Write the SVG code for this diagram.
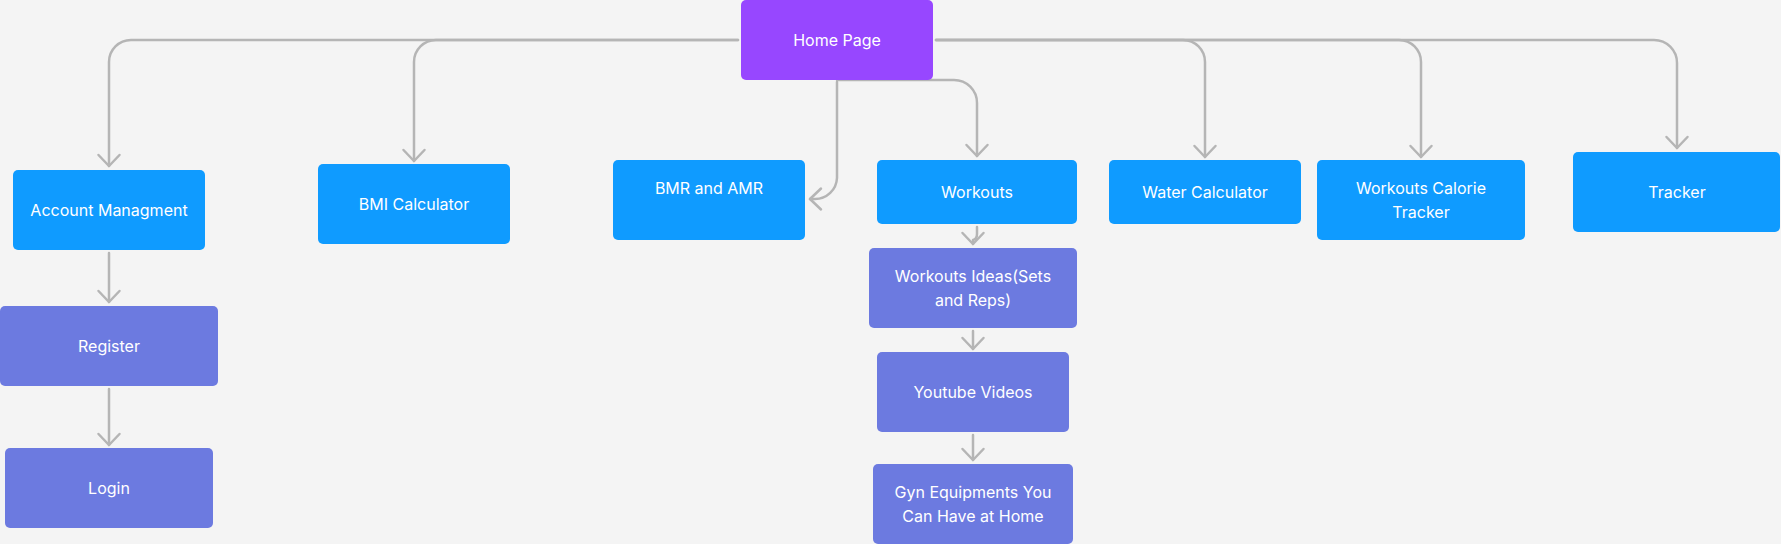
<svg xmlns="http://www.w3.org/2000/svg" width="1781" height="544" viewBox="0 0 1781 544">
<style>
.bg{fill:#f4f4f4}
.blue{fill:#0f9bff}
.purple{fill:#9747ff}
.lav{fill:#6c7ae0}
.t{font-family:Inter,"Noto Sans","Liberation Sans",sans-serif;font-size:16px;fill:#ffffff;text-anchor:middle}
.c{fill:none;stroke:#b5b5b5;stroke-width:2.5;stroke-linecap:round;stroke-linejoin:round}
</style>
<defs>
<marker id="ah" markerUnits="userSpaceOnUse" orient="auto" markerWidth="30" markerHeight="30" refX="0" refY="0" overflow="visible">
<path d="M-11 -10.5 L0 0 L-11 10.5" fill="none" stroke="#b5b5b5" stroke-width="2.5" stroke-linecap="round" stroke-linejoin="round"/>
</marker>
</defs>
<rect class="bg" x="0" y="0" width="1781" height="544"/>
<g id="connectors">
<path class="c" d="M738 40 H131 A22 22 0 0 0 109 62 V166" marker-end="url(#ah)"/>
<path class="c" d="M738 40 H436 A22 22 0 0 0 414 62 V161" marker-end="url(#ah)"/>
<path class="c" d="M837 82 V178 A22 22 0 0 1 815 199 H810" marker-end="url(#ah)"/>
<path class="c" d="M837 80 H954 A23 23 0 0 1 977 103 V156" marker-end="url(#ah)"/>
<path class="c" d="M936 40 H1183 A22 22 0 0 1 1205 62 V157" marker-end="url(#ah)"/>
<path class="c" d="M936 40 H1399 A22 22 0 0 1 1421 62 V157" marker-end="url(#ah)"/>
<path class="c" d="M936 40 H1654 A23 23 0 0 1 1677 63 V148" marker-end="url(#ah)"/>
<path class="c" d="M109 253 V302" marker-end="url(#ah)"/>
<path class="c" d="M109 389 V445" marker-end="url(#ah)"/>
<path class="c" d="M977 227 V234 Q977 239 973 240 V244" marker-end="url(#ah)"/>
<path class="c" d="M973 331 V349" marker-end="url(#ah)"/>
<path class="c" d="M973 435 V460" marker-end="url(#ah)"/>
</g>
<g id="home"><rect class="purple" x="741" y="0" width="192" height="80" rx="5"/><text class="t" x="837" y="46">Home Page</text></g>
<g id="account"><rect class="blue" x="13" y="170" width="192" height="80" rx="5"/><text class="t" x="109" y="216">Account Managment</text></g>
<g id="bmi"><rect class="blue" x="318" y="164" width="192" height="80" rx="5"/><text class="t" x="414" y="210">BMI Calculator</text></g>
<g id="bmr"><rect class="blue" x="613" y="160" width="192" height="80" rx="5"/><text class="t" x="709" y="194">BMR and AMR</text></g>
<g id="workouts"><rect class="blue" x="877" y="160" width="200" height="64" rx="5"/><text class="t" x="977" y="198">Workouts</text></g>
<g id="water"><rect class="blue" x="1109" y="160" width="192" height="64" rx="5"/><text class="t" x="1205" y="198">Water Calculator</text></g>
<g id="calorie"><rect class="blue" x="1317" y="160" width="208" height="80" rx="5"/><text class="t" x="1421" y="194">Workouts Calorie</text><text class="t" x="1421" y="218">Tracker</text></g>
<g id="tracker"><rect class="blue" x="1573" y="152" width="207" height="80" rx="5"/><text class="t" x="1677" y="198">Tracker</text></g>
<g id="register"><rect class="lav" x="0" y="306" width="218" height="80" rx="5"/><text class="t" x="109" y="352">Register</text></g>
<g id="login"><rect class="lav" x="5" y="448" width="208" height="80" rx="5"/><text class="t" x="109" y="494">Login</text></g>
<g id="ideas"><rect class="lav" x="869" y="248" width="208" height="80" rx="5"/><text class="t" x="973" y="282">Workouts Ideas(Sets</text><text class="t" x="973" y="306">and Reps)</text></g>
<g id="youtube"><rect class="lav" x="877" y="352" width="192" height="80" rx="5"/><text class="t" x="973" y="398">Youtube Videos</text></g>
<g id="gyn"><rect class="lav" x="873" y="464" width="200" height="80" rx="5"/><text class="t" x="973" y="498">Gyn Equipments You</text><text class="t" x="973" y="522">Can Have at Home</text></g>
</svg>
